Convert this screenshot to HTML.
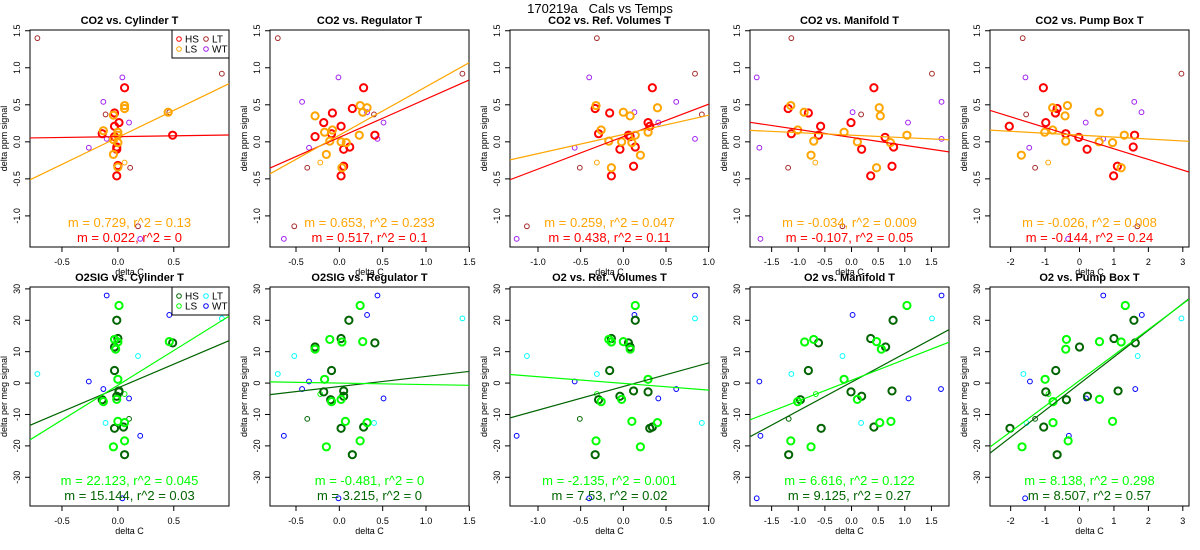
<!DOCTYPE html>
<html><head><meta charset="utf-8">
<style>
html,body{margin:0;padding:0;background:#fff;}
svg{display:block;font-family:"Liberation Sans",sans-serif;}
</style></head>
<body>
<svg id="chart" width="1200" height="550" viewBox="0 0 1200 550" xmlns="http://www.w3.org/2000/svg">
<text x="600" y="13" text-anchor="middle" font-size="13">170219a&#160;&#160;&#160;Cals vs Temps</text>
</svg>
<script>
// ---------- data ----------
const panelTitles = ["CO2 vs. Cylinder T","CO2 vs. Regulator T","CO2 vs. Ref. Volumes T","CO2 vs. Manifold T","CO2 vs. Pump Box T",
  "O2SIG vs. Cylinder T","O2SIG vs. Regulator T","O2 vs. Ref. Volumes T","O2 vs. Manifold T","O2 vs. Pump Box T"];
const xRanges = [[-0.786,0.994],[-0.8,1.496],[-1.328,1.004],[-1.906,1.83],[-2.6,3.18]];
const xTicks = [[-0.5,0,0.5],[-0.5,0,0.5,1,1.5],[-1,-0.5,0,0.5,1],[-1.5,-1,-0.5,0,0.5,1,1.5],[-2,-1,0,1,2,3]];
const xTickLabels = [["-0.5","0.0","0.5"],["-0.5","0.0","0.5","1.0","1.5"],["-1.0","-0.5","0.0","0.5","1.0"],["-1.5","-1.0","-0.5","0.0","0.5","1.0","1.5"],["-2","-1","0","1","2","3"]];
const yRangeTop = [-1.42,1.51];
const yRangeBot = [-39.15,30.6];
const yTicksTop = [-1,-0.5,0,0.5,1,1.5];
const yTickLabelsTop = ["-1.0","-0.5","0.0","0.5","1.0","1.5"];
const yTicksBot = [-30,-20,-10,0,10,20,30];
const yTickLabelsBot = ["-30","-20","-10","0","10","20","30"];

// CO2 panels
const p1_HS=[[0.06,0.73],[-0.03,0.39],[0.01,0.26],[-0.03,0.21],[-0.14,0.11],[0.49,0.09],[-0.03,0.07],[-0.01,-0.07],[-0.01,-0.1],[0,-0.32],[-0.01,-0.46]];
const p1_LS=[[0.06,0.49],[0.06,0.45],[-0.04,0.36],[-0.13,0.15],[0,0.13],[0,0.09],[-0.04,0.03],[0,-0.01],[-0.04,-0.17],[0,-0.34],[0.45,0.4]];
const p1_LT=[[-0.72,1.4],[0.93,0.92],[-0.11,0.37],[0.46,0.4],[0.11,-0.35],[0.18,-1.14]];
const p1_WT=[[0.04,0.87],[-0.13,0.54],[0.1,0.26],[-0.1,0.04],[-0.26,-0.08],[0.2,-1.31]];
const p1_LSs=[[0.06,-0.28]];
const p2_HS=[[0.28,0.73],[0.15,0.45],[-0.08,0.39],[-0.18,0.26],[0.02,0.21],[-0.09,0.11],[0.41,0.09],[-0.28,0.07],[0.12,-0.07],[0.05,-0.1],[0.05,-0.33],[0.02,-0.46]];
const p2_LS=[[0.24,0.49],[0.32,0.46],[0.27,0.4],[-0.28,0.35],[-0.08,0.16],[-0.17,0.13],[0.23,0.09],[-0.11,0.01],[0.02,0],[0.08,-0.01],[-0.15,-0.17],[0.03,-0.35]];
const p2_LT=[[-0.71,1.4],[1.42,0.92],[0.4,0.37],[-0.37,-0.35],[-0.52,-1.14]];
const p2_WT=[[-0.01,0.87],[-0.43,0.54],[0.32,0.4],[0.51,0.26],[0.44,0.04],[-0.35,-0.08],[-0.64,-1.31]];
const p2_LSs=[[-0.22,-0.28]];
const p3_HS=[[0.34,0.73],[-0.33,0.45],[-0.16,0.39],[-0.29,0.11],[0.29,0.26],[0.31,0.21],[0.06,0.09],[0.08,0.07],[-0.04,-0.1],[0.14,-0.07],[0.12,-0.33],[-0.14,-0.46]];
const p3_LS=[[-0.32,0.49],[0.4,0.46],[0,0.4],[0.08,0.35],[-0.26,0.16],[0.14,0.09],[0.29,0.13],[-0.17,0.01],[-0.02,0],[0.1,-0.01],[0.2,-0.18],[-0.14,-0.35]];
const p3_LT=[[-0.31,1.4],[0.84,0.92],[0.92,0.37],[-0.51,-0.35],[-1.13,-1.14]];
const p3_WT=[[-0.4,0.87],[0.62,0.54],[0.13,0.4],[0.41,0.26],[0.84,0.04],[-0.57,-0.08],[-1.25,-1.31]];
const p3_LSs=[[-0.31,-0.28]];
const p4_HS=[[0.42,0.73],[-1.19,0.45],[-0.81,0.39],[-0.01,0.26],[-0.58,0.21],[-1.13,0.11],[-0.62,0.09],[0.63,0.06],[0.19,-0.1],[0.79,-0.07],[0.76,-0.33],[0.36,-0.46]];
const p4_LS=[[-1.14,0.49],[0.52,0.46],[-0.89,0.4],[0.54,0.35],[-1.01,0.16],[-0.14,0.13],[1.04,0.09],[-0.71,0.01],[0.11,0],[0.73,-0.01],[-0.76,-0.18],[0.47,-0.35]];
const p4_LT=[[-1.13,1.4],[1.51,0.92],[0.18,0.37],[-1.19,-0.35],[-0.17,-1.14]];
const p4_WT=[[-1.78,0.87],[1.69,0.54],[0.02,0.4],[1.06,0.26],[1.69,0.04],[-1.73,-0.08],[-1.71,-1.31]];
const p4_LSs=[[-0.68,-0.28]];
const p5_HS=[[-1.05,0.73],[-0.65,0.45],[-0.7,0.39],[-0.98,0.26],[-2.04,0.21],[-0.4,0.11],[1.6,0.09],[-0.02,0.06],[0.22,-0.1],[1.56,-0.07],[1.1,-0.33],[0.99,-0.46]];
const p5_LS=[[-0.35,0.49],[-0.78,0.46],[0.57,0.4],[-0.42,0.35],[-0.78,0.16],[-1.01,0.13],[1.3,0.09],[-0.4,0.01],[0.57,0],[0.96,-0.01],[-1.69,-0.18],[1.21,-0.35]];
const p5_LT=[[-1.65,1.4],[2.96,0.92],[-1.55,0.37],[-1.29,-0.35],[1.68,-1.14]];
const p5_WT=[[-1.57,0.87],[1.59,0.54],[1.8,0.4],[0.18,0.26],[0.69,0.04],[-1.46,-0.08],[-0.33,-1.31]];
const p5_LSs=[[-0.91,-0.28]];
// O2 panels
const p6_HS=[[-0.01,20],[0,14.2],[0.49,12.8],[-0.03,11.5],[-0.03,4],[0.01,-2.5],[0.01,-2.8],[-0.01,-4.2],[-0.14,-5.3],[-0.03,-14.4],[0.05,-14],[0.06,-22.8]];
const p6_LS=[[0.01,24.7],[-0.03,13.9],[0.46,13.2],[0,13.1],[-0.02,10.8],[0,1.2],[-0.01,-5.2],[-0.13,-5.9],[0,-12.2],[0.06,-12.6],[0.06,-18.4],[-0.04,-20.3]];
const p6_LT=[[0.93,20.6],[0.18,8.6],[-0.72,2.9],[-0.11,-12.7]];
const p6_WT=[[-0.1,27.9],[0.46,21.7],[-0.26,0.5],[-0.13,-1.9],[0.1,-4.9],[0.2,-16.8],[0.04,-36.7]];
const p6_HSs=[[0.1,-11.4]];
const p6_LSs=[[0.06,-3.5]];
const p7_HS=[[0.11,20],[0.02,14.2],[0.41,12.8],[-0.28,11.5],[-0.09,4],[0.05,-2.5],[-0.18,-2.8],[0.05,-4.2],[-0.1,-5.3],[0.28,-14],[0.02,-14.4],[0.15,-22.8]];
const p7_LS=[[0.24,24.7],[-0.11,13.9],[0.27,13.2],[0.03,13.1],[-0.28,10.8],[-0.17,1.2],[0.02,-5.2],[-0.09,-5.9],[0.07,-12.2],[0.32,-12.6],[0.24,-18.4],[-0.15,-20.3]];
const p7_LT=[[1.42,20.6],[-0.52,8.6],[-0.71,2.9],[0.4,-12.7]];
const p7_WT=[[0.44,27.9],[0.32,21.7],[-0.35,0.5],[-0.43,-1.9],[0.51,-4.9],[-0.64,-16.8],[-0.01,-36.7]];
const p7_HSs=[[-0.37,-11.4]];
const p7_LSs=[[-0.22,-3.5]];
const p8_HS=[[0.14,20],[-0.14,14.2],[0.06,12.8],[0.08,11.5],[-0.16,4],[0.12,-2.5],[0.29,-2.8],[-0.04,-4.2],[-0.29,-5.3],[0.34,-14],[0.31,-14.4],[-0.33,-22.8]];
const p8_LS=[[0.14,24.7],[-0.17,13.9],[0,13.2],[-0.14,13.1],[0.08,10.8],[0.29,1.2],[-0.02,-5.2],[-0.26,-5.9],[0.1,-12.2],[0.4,-12.6],[-0.32,-18.4],[0.2,-20.3]];
const p8_LT=[[0.84,20.6],[-1.13,8.6],[-0.31,2.9],[0.92,-12.7]];
const p8_WT=[[0.84,27.9],[0.13,21.7],[-0.57,0.5],[0.62,-1.9],[0.41,-4.9],[-1.25,-16.8],[-0.4,-36.7]];
const p8_HSs=[[-0.51,-11.4]];
const p8_LSs=[[-0.31,-3.5]];
const p9_HS=[[0.78,20],[0.36,14.2],[-0.62,12.8],[0.64,11.5],[-0.81,4],[0.76,-2.5],[-0.01,-2.8],[0.19,-4.2],[-0.96,-5.3],[0.42,-14],[-0.57,-14.4],[-1.18,-22.8]];
const p9_LS=[[1.04,24.7],[-0.71,13.9],[0.47,13.2],[-0.88,13.1],[0.56,10.8],[-0.14,1.2],[0.11,-5.2],[-1.01,-5.9],[0.74,-12.2],[0.53,-12.6],[-1.14,-18.4],[-0.76,-20.3]];
const p9_LT=[[1.51,20.6],[-0.17,8.6],[-1.13,2.9],[0.18,-12.7]];
const p9_WT=[[1.69,27.9],[0.02,21.7],[-1.73,0.5],[1.68,-1.9],[1.07,-4.9],[-1.71,-16.8],[-1.78,-36.7]];
const p9_HSs=[[-1.18,-11.4]];
const p9_LSs=[[-0.67,-3.5]];
const p10_HS=[[1.58,20],[1.0,14.2],[1.62,12.8],[0,11.5],[-0.69,4],[1.12,-2.5],[-0.98,-2.8],[0.23,-4.2],[-0.38,-5.3],[-1.04,-14],[-2.02,-14.4],[-0.65,-22.8]];
const p10_LS=[[1.33,24.7],[-0.38,13.9],[0.58,13.2],[1.21,13.1],[-0.4,10.8],[-1.0,1.2],[0.58,-5.2],[-0.77,-5.9],[0.96,-12.2],[-0.77,-12.6],[-0.33,-18.4],[-1.67,-20.3]];
const p10_LT=[[2.96,20.6],[1.69,8.6],[-1.63,2.9],[-1.54,-12.7]];
const p10_WT=[[0.69,27.9],[1.81,21.7],[-1.44,0.5],[1.62,-1.9],[0.19,-4.9],[-0.31,-16.8],[-1.58,-36.7]];
const p10_HSs=[[-1.29,-11.4]];
const p10_LSs=[[-0.9,-3.5]];

const slopesLS = [0.729,0.653,0.259,-0.034,-0.026,22.123,-0.481,-2.135,6.616,8.138];
const interceptsLS = [0.06,0.09,0.1,0.09,0.09,-0.7,0.0,-0.1,0.9,0.8];
const slopesHS = [0.022,0.517,0.438,-0.107,-0.144,15.144,3.215,7.53,9.125,8.507];
const interceptsHS = [0.07,0.06,0.07,0.06,0.05,-1.55,-1.1,-1.1,0.3,-0.2];
const statLS = ["m = 0.729, r^2 = 0.13","m = 0.653, r^2 = 0.233","m = 0.259, r^2 = 0.047","m = -0.034, r^2 = 0.009","m = -0.026, r^2 = 0.008",
  "m = 22.123, r^2 = 0.045","m = -0.481, r^2 = 0","m = -2.135, r^2 = 0.001","m = 6.616, r^2 = 0.122","m = 8.138, r^2 = 0.298"];
const statHS = ["m = 0.022, r^2 = 0","m = 0.517, r^2 = 0.1","m = 0.438, r^2 = 0.11","m = -0.107, r^2 = 0.05","m = -0.144, r^2 = 0.24",
  "m = 15.144, r^2 = 0.03","m = 3.215, r^2 = 0","m = 7.53, r^2 = 0.02","m = 9.125, r^2 = 0.27","m = 8.507, r^2 = 0.57"];

const panelData = [
 {HS:p1_HS,LS:p1_LS,LT:p1_LT,WT:p1_WT,LSs:p1_LSs,HSs:[]},
 {HS:p2_HS,LS:p2_LS,LT:p2_LT,WT:p2_WT,LSs:p2_LSs,HSs:[]},
 {HS:p3_HS,LS:p3_LS,LT:p3_LT,WT:p3_WT,LSs:p3_LSs,HSs:[]},
 {HS:p4_HS,LS:p4_LS,LT:p4_LT,WT:p4_WT,LSs:p4_LSs,HSs:[]},
 {HS:p5_HS,LS:p5_LS,LT:p5_LT,WT:p5_WT,LSs:p5_LSs,HSs:[]},
 {HS:p6_HS,LS:p6_LS,LT:p6_LT,WT:p6_WT,LSs:p6_LSs,HSs:p6_HSs},
 {HS:p7_HS,LS:p7_LS,LT:p7_LT,WT:p7_WT,LSs:p7_LSs,HSs:p7_HSs},
 {HS:p8_HS,LS:p8_LS,LT:p8_LT,WT:p8_WT,LSs:p8_LSs,HSs:p8_HSs},
 {HS:p9_HS,LS:p9_LS,LT:p9_LT,WT:p9_WT,LSs:p9_LSs,HSs:p9_HSs},
 {HS:p10_HS,LS:p10_LS,LT:p10_LT,WT:p10_WT,LSs:p10_LSs,HSs:p10_HSs}
];

// ---------- drawing ----------
const NS="http://www.w3.org/2000/svg";
const svg=document.getElementById('chart');
function mk(tag,attrs,parent){const e=document.createElementNS(NS,tag);for(const k in attrs)e.setAttribute(k,attrs[k]);(parent||svg).appendChild(e);return e;}
const colTop={HS:"#ff0000",LS:"#ffa500",LT:"#a52a2a",WT:"#a020f0",LSs:"#ffa500",HSs:"#ff0000"};
const colBot={HS:"#006400",LS:"#00ff00",LT:"#00ffff",WT:"#0000ff",LSs:"#00ff00",HSs:"#006400"};
const big={HS:true,LS:true};

for(let p=0;p<10;p++){
  const row=Math.floor(p/5), c=p%5;
  const L=30+240*c, R=229+240*c;
  const T=row?287:30, B=row?506:247;
  const xr=xRanges[c], yr=row?yRangeBot:yRangeTop;
  const sx=v=>L+(v-xr[0])/(xr[1]-xr[0])*(R-L);
  const sy=v=>B-(v-yr[0])/(yr[1]-yr[0])*(B-T);
  const cols=row?colBot:colTop;
  const g=mk('g',{});
  
  
  const clipId='clip'+p;
  const cp=mk('clipPath',{id:clipId},g);
  mk('rect',{x:L,y:T,width:R-L,height:B-T},cp);

  const title=mk('text',{x:(L+R)/2,y:T-6,'text-anchor':'middle','font-size':'11','font-weight':'bold'},g);
  title.textContent=panelTitles[p];
  
  

  xTicks[c].forEach((v,i)=>{
    const x=sx(v);
    mk('line',{x1:x,x2:x,y1:B,y2:B+5,stroke:'#000','stroke-width':1},g);
    const t=mk('text',{x:x,y:B+18,'text-anchor':'middle','font-size':'9'},g);
    t.textContent=xTickLabels[c][i];
    
    
  });
  mk('line',{x1:sx(xTicks[c][0]),x2:sx(xTicks[c][xTicks[c].length-1]),y1:B,y2:B,stroke:'#000'},g);
  const xl=mk('text',{x:(L+R)/2,y:B+28,'text-anchor':'middle','font-size':'9'},g);
  xl.textContent='delta C';
  
  

  const yt=row?yTicksBot:yTicksTop, ytl=row?yTickLabelsBot:yTickLabelsTop;
  yt.forEach((v,i)=>{
    const y=sy(v);
    mk('line',{x1:L-5,x2:L,y1:y,y2:y,stroke:'#000'},g);
    const t=mk('text',{x:L-10,y:y,'text-anchor':'middle','font-size':'9',transform:`rotate(-90 ${L-10} ${y})`},g);
    t.textContent=ytl[i];
    
    
  });
  const yl=mk('text',{x:L-23,y:(T+B)/2,'text-anchor':'middle','font-size':'9',transform:`rotate(-90 ${L-23} ${(T+B)/2})`},g);
  yl.textContent=row?'delta per meg signal':'delta ppm signal';
  
  

  const box=mk('rect',{x:L,y:T,width:R-L,height:B-T,fill:'none',stroke:'#000','stroke-width':1},g);
  
  

  const inner=mk('g',{'clip-path':`url(#${clipId})`},g);
  const d=panelData[p];
  ['LT','WT','LSs','HSs','HS','LS'].forEach(k=>{
    d[k].forEach(pt=>{
      const isBig=big[k];
      const cc=mk('circle',{cx:sx(pt[0]),cy:sy(pt[1]),r:isBig?3.6:2.4,fill:'none',stroke:cols[k],'stroke-width':isBig?2:1},inner);
      
      
    });
  });
  [[slopesHS[p],interceptsHS[p],cols.HS,'fit-line-hs'],[slopesLS[p],interceptsLS[p],cols.LS,'fit-line-ls']].forEach(f=>{
    const ln=mk('line',{x1:L,x2:R,y1:sy(f[1]+f[0]*xr[0]),y2:sy(f[1]+f[0]*xr[1]),stroke:f[2],'stroke-width':1.2},inner);
    
    
  });
  const s1=mk('text',{x:(L+R)/2,y:row?485:227,'text-anchor':'middle','font-size':'13',fill:cols.LS},g);
  s1.textContent=statLS[p];
  
  
  const s2=mk('text',{x:(L+R)/2,y:row?500:242,'text-anchor':'middle','font-size':'13',fill:row?'#006400':'#ff0000'},g);
  s2.textContent=statHS[p];
  
  

  if(c===0){
    const lg=mk('g',{},g);
    
    
    mk('rect',{x:172,y:T,width:R-172,height:28,fill:'#fff',stroke:'#000'},lg);
    [['HS',179,T+9],['LS',179,T+19],['LT',206,T+9],['WT',206,T+19]].forEach(e=>{
      const it=mk('g',{},lg);
      
      
      mk('circle',{cx:e[1],cy:e[2],r:2.3,fill:'none',stroke:cols[e[0]],'stroke-width':1},it);
      const t=mk('text',{x:e[1]+6,y:e[2]+3.5,'font-size':'10'},it);
      t.textContent=e[0];
    });
  }
}
</script>
</body></html>
